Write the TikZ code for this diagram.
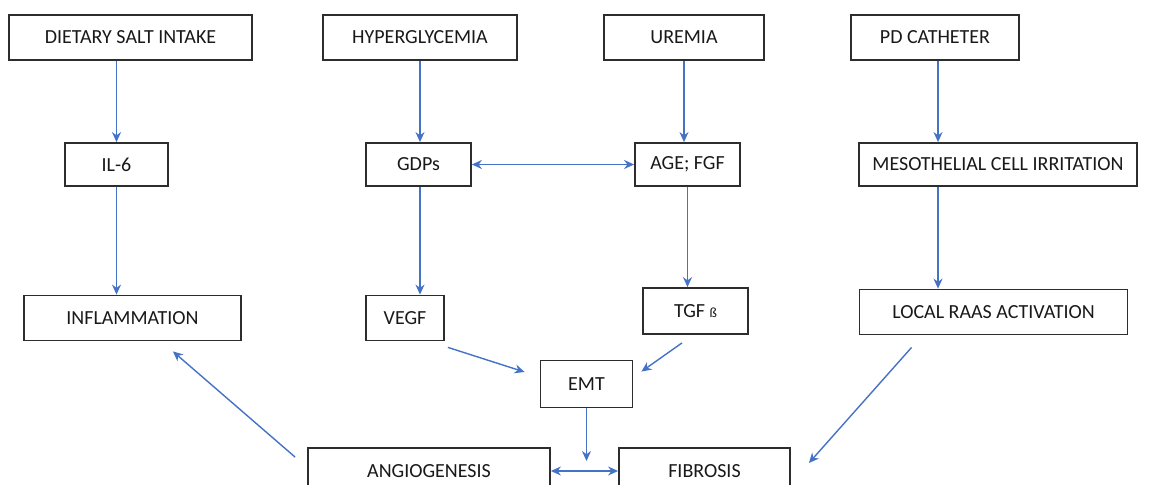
\documentclass[tikz,border=0pt]{standalone}
\usepackage{fontspec}
\setmainfont{Carlito}
\usepackage{xcolor}
\usepackage{tikz}
\usetikzlibrary{arrows.meta,calc}

\definecolor{flowblue}{RGB}{68,114,196}
\definecolor{boxline}{RGB}{45,45,45}

\begin{document}
\begin{tikzpicture}[x=0.5pt, y=-0.5pt,
    every node/.style={font=\fontsize{10}{12}\selectfont, text=black!90},
    box/.style={draw=boxline, line width=0.9pt, fill=white, inner sep=0pt,
                minimum height=22.5pt},
    flow/.style={draw=flowblue, line width=0.7pt, -{Stealth[length=5pt,width=4.5pt]}},
    both/.style={draw=flowblue, line width=0.7pt, {Stealth[length=5pt,width=4.5pt]}-{Stealth[length=5pt,width=4.5pt]}}]
  \useasboundingbox (0,0) rectangle (1150,485);
  \clip (0,0) rectangle (1150,485);
  % ---- top row: causes
  \node[box, minimum width=121.5pt] (salt)   at (130.5,37.5) {DIETARY SALT INTAKE};
  \node[box, minimum width=97pt]    (hyper)  at (420,37.5)   {HYPERGLYCEMIA};
  \node[box, minimum width=80pt]    (uremia) at (684,37.5)   {UREMIA};
  \node[box, minimum width=84pt]    (pd)     at (935,37.5)   {PD CATHETER};
  % ---- second row: mediators
  \node[box, minimum width=51.5pt, minimum height=21.5pt] (il6)  at (116.5,164.5) {IL-6};
  \node[box, minimum width=52.5pt, minimum height=21.5pt] (gdps) at (418.5,164.5) {GDPs};
  \node[box, minimum width=52.5pt, minimum height=21.5pt] (age)  at (687.5,164.5) {AGE; FGF};
  \node[box, minimum width=139pt,  minimum height=21.5pt] (meso) at (998,164.5)   {MESOTHELIAL CELL IRRITATION};
  % ---- third row
  \node[box, minimum width=108.5pt] (inflam) at (132.5,318) {INFLAMMATION};
  \node[box, minimum width=39pt]    (vegf)   at (405,318)   {VEGF};
  \node[box, minimum width=52.5pt, minimum height=23pt] (tgf) at (695.5,311) {TGF {\scriptsize ß}};
  \node[box, minimum width=134pt]   (raas)   at (993.5,312) {LOCAL RAAS ACTIVATION};
  % ---- outcomes
  \node[box, minimum width=46pt, minimum height=23.5pt] (emt) at (586.5,384) {EMT};
  \node[box, minimum width=121pt, minimum height=23pt] (angio) at (429,471) {ANGIOGENESIS};
  \node[box, minimum width=85.5pt, minimum height=23pt] (fib)  at (704.5,471) {FIBROSIS};
  % ---- vertical arrows
  \draw[flow] (il6 |- salt.south) -- (il6.north);
  \draw[flow] (il6.south) -- (il6.south |- inflam.north);
  \draw[flow] (hyper.south) -- (hyper.south |- gdps.north);
  \draw[flow] (hyper.south |- gdps.south) -- (hyper.south |- vegf.north);
  \draw[flow] (uremia.south) -- (uremia.south |- age.north);
  \draw[flow] (age.south) -- (age.south |- tgf.north);
  \draw[flow] (938,0 |- pd.south) -- (938,0 |- meso.north);
  \draw[flow] (938,0 |- meso.south) -- (938,0 |- raas.north);
  \draw[both] (gdps) -- (age);
  % ---- into EMT and the bottom row
  \draw[flow] ([shift={(3,6)}]vegf.south east) -- ([shift={(-15,-12)}]emt.west);
  \draw[flow] ([shift={(-13.5,8)}]tgf.south) -- ([shift={(8,12)}]emt.north east);
  \draw[flow, shorten >=5pt] (emt.south) -- (emt.south |- fib.west);
  \draw[both] (angio) -- (fib);
  \draw[flow] ([shift={(-12,10)}]angio.north west) -- ([shift={(-69,10)}]inflam.south east);
  \draw[flow] ([shift={(53,12)}]raas.south west) -- ([shift={(18,-8)}]fib.east);
\end{tikzpicture}
\end{document}
